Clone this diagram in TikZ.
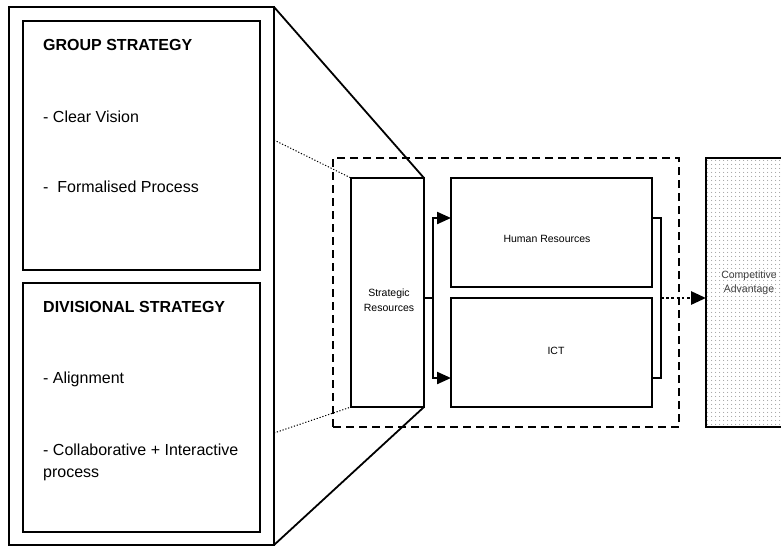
\documentclass[tikz,border=0pt]{standalone}
\usepackage{fontspec}
\setmainfont{Liberation Sans}
\usetikzlibrary{arrows.meta,patterns.meta,calc}
\begin{document}
\begin{tikzpicture}[x=1pt,y=-1pt,
  box/.style={draw=black,line width=2.2pt,rectangle,inner sep=0pt,outer sep=0pt,anchor=north west},
  headtxt/.style={font=\bfseries\fontsize{16}{18}\selectfont,anchor=base west,inner sep=0pt},
  itemtxt/.style={font=\fontsize{16}{18}\selectfont,anchor=base west,inner sep=0pt},
  smalltxt/.style={font=\fontsize{10.5}{12}\selectfont,anchor=base,inner sep=0pt},
  thindot/.style={line width=1pt,dash pattern=on 1.2pt off 1.8pt},
  link/.style={line width=2.2pt},
  tip/.style={-{Triangle[length=14pt,width=12pt]}}
]
\useasboundingbox (0,0) rectangle (781,547);
% left panel
\node[box,minimum width=265pt,minimum height=538pt] (outer) at (9,7) {};
\node[box,minimum width=237pt,minimum height=249pt] (group) at (23,21) {};
\node[box,minimum width=237pt,minimum height=249pt] (div) at (23,283) {};
\node[headtxt] (gs) at (43,50) {GROUP STRATEGY};
\node[itemtxt] (cv) at (43,122) {- Clear Vision};
\node[itemtxt] (fp) at (43,192) {-\ \ Formalised Process};
\node[headtxt] (ds) at (43,312) {DIVISIONAL STRATEGY};
\node[itemtxt] (al) at (43,383) {- Alignment};
\node[itemtxt] (ci) at (43,455) {- Collaborative + Interactive};
\node[itemtxt] (pr) at (43,477) {process};
% dashed frame
\node[box,dash pattern=on 8pt off 5pt,line width=2.4pt,minimum width=346pt,minimum height=269pt] (frame) at (333,158) {};
% competitive advantage
\node[box,minimum width=110pt,minimum height=269pt,fill=white,
  postaction={pattern={Dots[distance=4pt,radius=0.6pt]},pattern color=black!45}] (ca) at (706,158) {};
\node[smalltxt,text=black!75] (ca1) at (749,278) {Competitive};
\node[smalltxt,text=black!75] (ca2) at (749,292) {Advantage};
% inner boxes
\node[box,fill=white,minimum width=73pt,minimum height=229pt] (sr) at (351,178) {};
\node[box,minimum width=201pt,minimum height=109pt] (hr) at (451,178) {};
\node[box,minimum width=201pt,minimum height=109pt] (ict) at (451,298) {};
\node[smalltxt] (sr1) at (389,296) {Strategic};
\node[smalltxt] (sr2) at (389,311) {Resources};
\node[smalltxt] (hrt) at (547,242) {Human Resources};
\node[smalltxt] (ictt) at (556,354) {ICT};
% zoom lines
\draw[line width=1.8pt] (outer.north east) -- (sr.north east);
\draw[line width=1.8pt] (outer.south east) -- (sr.south east);
\coordinate (dtop) at (274,140);
\coordinate (dbot) at (274,433);
\draw[thindot] (dtop) -- (sr.north west);
\draw[thindot] (dbot) -- (sr.south west);
% fork arrows
\coordinate (fork) at (433,298);
\coordinate (hrin) at (451,218);
\coordinate (ictin) at (451,378);
\draw[link] (sr.east |- fork) -- (fork);
\draw[link,tip] (fork) |- (hrin);
\draw[link,tip] (fork) |- (ictin);
% bracket
\coordinate (brtop) at (661,218);
\coordinate (brbot) at (661,378);
\coordinate (brmid) at (661,298);
\draw[link] (hr.east |- brtop) -- (brtop) -- (brbot) -- (ict.east |- brbot);
\draw[line width=2.8pt,dash pattern=on 2.6pt off 2.6pt,-{Triangle[length=15pt,width=13pt]}] (brmid) -- (ca.west |- brmid);
\end{tikzpicture}
\end{document}
